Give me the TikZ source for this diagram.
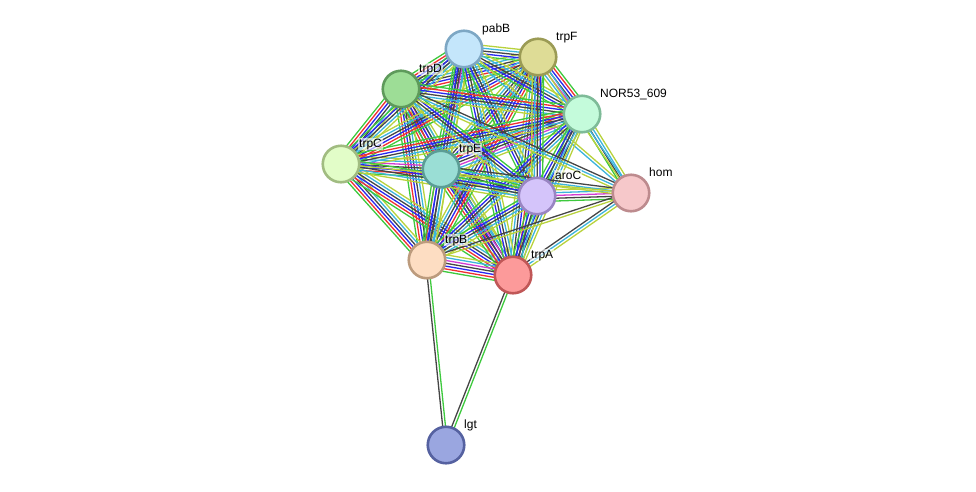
\documentclass[tikz,border=0pt]{standalone}
\usepackage{fontspec}
\setmainfont{Liberation Sans}
\usetikzlibrary{calc,backgrounds}
\definecolor{eg}{HTML}{3DC93D}
\definecolor{er}{HTML}{F03030}
\definecolor{eb}{HTML}{2828F0}
\definecolor{ek}{HTML}{454545}
\definecolor{em}{HTML}{D23CD2}
\definecolor{ec}{HTML}{3CB4DC}
\definecolor{ey}{HTML}{B8D23C}
\newcommand\sedge[3]{%
  \foreach \col [count=\i] in {#3}{\xdef\snn{\i}}%
  \foreach \col [count=\i] in {#3}{%
    \pgfmathsetmacro\soff{(\i-(\snn+1)/2)*2.8}%
    \draw[\col, sline] ($(#1)!\soff pt!90:(#2)$) -- ($(#2)!\soff pt!-90:(#1)$);
  }%
}
\tikzset{
  sline/.style={line width=1.3pt},
  snode/.style={circle, minimum size=36.5pt, line width=2.6pt, inner sep=0pt},
  slabel/.style={anchor=base west, inner sep=0.8pt, fill=white, fill opacity=0.6, text opacity=1, font=\fontsize{12}{14}\selectfont}
}
\newcommand\slab[3]{\node[slabel] (#1) at ($(#2)+(17.2,-17)$) {#3};}
\begin{document}
\begin{tikzpicture}[x=1pt,y=-1pt]
\useasboundingbox (0,0) rectangle (976,491);
\node[snode, fill={rgb,255:red,196;green,230;blue,251}, draw={rgb,255:red,125;green,167;blue,196}] (P) at (464,49) {};
\node[snode, fill={rgb,255:red,222;green,220;blue,150}, draw={rgb,255:red,155;green,155;blue,85}] (F) at (538,57) {};
\node[snode, fill={rgb,255:red,157;green,221;blue,150}, draw={rgb,255:red,94;green,154;blue,91}] (D) at (401,89) {};
\node[snode, fill={rgb,255:red,196;green,251;blue,219}, draw={rgb,255:red,126;green,187;blue,152}] (N) at (582,114) {};
\node[snode, fill={rgb,255:red,226;green,253;blue,200}, draw={rgb,255:red,161;green,188;blue,129}] (C) at (341,164) {};
\node[snode, fill={rgb,255:red,154;green,222;blue,213}, draw={rgb,255:red,91;green,157;blue,149}] (E) at (441,169) {};
\node[snode, fill={rgb,255:red,212;green,196;blue,250}, draw={rgb,255:red,153;green,133;blue,194}] (R) at (537,196) {};
\node[snode, fill={rgb,255:red,246;green,200;blue,202}, draw={rgb,255:red,189;green,139;blue,142}] (H) at (631,193) {};
\node[snode, fill={rgb,255:red,253;green,221;blue,194}, draw={rgb,255:red,188;green,155;blue,125}] (B) at (427,260) {};
\node[snode, fill={rgb,255:red,252;green,154;blue,154}, draw={rgb,255:red,192;green,87;blue,87}] (A) at (513,275) {};
\node[snode, fill={rgb,255:red,154;green,166;blue,224}, draw={rgb,255:red,85;green,97;blue,160}] (L) at (446,445) {};
\begin{pgfonlayer}{background}
% trp internal
\sedge{D}{E}{eg,er,eb,ek,em,ec,ey}
\sedge{D}{C}{eg,er,eb,ek,ec,ey}
\sedge{D}{B}{eg,er,eb,ek,ec,ey}
\sedge{D}{A}{eg,er,eb,ek,ec,ey}
\sedge{D}{F}{eg,er,eb,ek,ec,ey}
\sedge{C}{E}{eg,er,eb,ek,em,ec,ey}
\sedge{C}{B}{eg,er,eb,ek,ec,ey}
\sedge{C}{A}{eg,er,eb,ek,ec,ey}
\sedge{C}{F}{eg,er,eb,ek,ec,ey}
\sedge{E}{B}{eg,er,eb,ek,ec,ey}
\sedge{E}{A}{eg,er,eb,ek,em,ec,ey}
\sedge{E}{F}{eg,er,eb,ek,ec,ey}
\sedge{B}{A}{eg,er,eb,ek,em,ec,ey}
\sedge{B}{F}{eg,er,eb,ek,ec,ey}
\sedge{A}{F}{eg,er,eb,ek,ec,ey}
% pabB
\sedge{P}{D}{eg,er,eb,ek,ec,ey}
\sedge{P}{E}{eg,eb,ek,em,ec,ey}
\sedge{P}{F}{eg,eb,ek,ec,ey}
\sedge{P}{C}{eg,eb,ek,ec,ey}
\sedge{P}{B}{eg,eb,ek,ec,ey}
\sedge{P}{A}{eg,eb,ek,ec,ey}
\sedge{P}{N}{eg,eb,ek,ec,ey}
\sedge{P}{R}{eg,eb,ek,ec,ey}
\sedge{P}{H}{ec,ey}
% NOR53_609
\sedge{N}{F}{eg,er,eb,ek,em,ec,ey}
\sedge{N}{D}{eg,er,eb,ek,ec,ey}
\sedge{N}{E}{eg,er,eb,ek,em,ec,ey}
\sedge{N}{C}{eg,er,eb,ek,ec,ey}
\sedge{N}{B}{eg,eb,ek,ec,ey}
\sedge{N}{A}{eg,eb,ek,ec,ey}
\sedge{N}{R}{eg,eb,ek,ec,ey}
\sedge{N}{H}{eg,ek,ec,ey}
% aroC
\sedge{R}{D}{eg,eb,ek,ec,ey}
\sedge{R}{E}{eg,eb,ek,ec,ey}
\sedge{R}{C}{eg,eb,ek,ec,ey}
\sedge{R}{F}{eg,eb,ek,ec,ey}
\sedge{R}{B}{eg,eb,ek,ec,ey}
\sedge{R}{A}{eg,eb,ek,ec,ey}
\sedge{R}{H}{eg,ek,em,ec,ey}
% hom
\sedge{H}{F}{ec,ey}
\sedge{H}{D}{ek,ec,ey}
\sedge{H}{E}{ek,ec,ey}
\sedge{H}{C}{ey}
\sedge{H}{B}{ek,ey}
\sedge{H}{A}{ek,ec,ey}
% lgt
\sedge{L}{B}{eg,ek}
\sedge{L}{A}{eg,ek}
\end{pgfonlayer}
\slab{lP}{P}{pabB}
\slab{lF}{F}{trpF}
\slab{lD}{D}{trpD}
\slab{lN}{N}{NOR53\_609}
\slab{lC}{C}{trpC}
\slab{lE}{E}{trpE}
\slab{lR}{R}{aroC}
\slab{lH}{H}{hom}
\slab{lB}{B}{trpB}
\slab{lA}{A}{trpA}
\slab{lL}{L}{lgt}
\end{tikzpicture}
\end{document}
